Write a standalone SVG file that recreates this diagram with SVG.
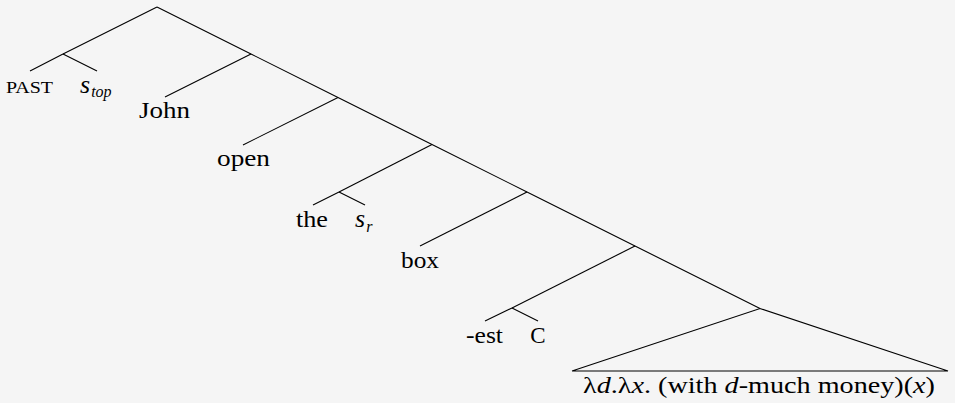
<svg xmlns="http://www.w3.org/2000/svg" width="955" height="403" viewBox="0 0 955 403">
<style>
.t{font-family:"Liberation Serif","Times New Roman",serif;font-size:23px;fill:#000}
.i{font-style:italic}
.s{font-style:italic;font-size:26px}
.sc{font-size:17.5px}
.sub{font-size:16px;font-style:italic}
#edges line,#edges polyline{stroke:#000;stroke-width:1.1;fill:none}
</style>
<rect width="955" height="403" fill="#f5f5f5"/>
<g id="edges">
<line x1="157" y1="7" x2="63" y2="54"/>
<line x1="63" y1="54" x2="30" y2="71"/>
<line x1="63" y1="54" x2="97" y2="71"/>
<polyline points="157,7 251,54 338,97.5 432,144.5 527,192 635,246 760,308.5"/>
<line x1="251" y1="54" x2="165" y2="97"/>
<line x1="338" y1="97.5" x2="243" y2="145"/>
<line x1="432" y1="144.5" x2="339" y2="192"/>
<line x1="339" y1="192" x2="313" y2="205"/>
<line x1="339" y1="192" x2="365" y2="205"/>
<line x1="527" y1="192" x2="420" y2="246"/>
<line x1="635" y1="246" x2="512" y2="308"/>
<line x1="512" y1="308" x2="485" y2="321"/>
<line x1="512" y1="308" x2="538" y2="321"/>
<polyline points="572,371 760,308.5 948,371 572,371"/>
</g>
<g id="n-past"><text class="t sc" x="6" y="93" textLength="47" lengthAdjust="spacingAndGlyphs">PAST</text></g>
<g id="n-stop"><text class="t" x="80" y="93"><tspan class="s">s</tspan><tspan class="sub" dx="1" dy="4">top</tspan></text></g>
<g id="n-john"><text class="t" x="139" y="118" textLength="51" lengthAdjust="spacingAndGlyphs">John</text></g>
<g id="n-open"><text class="t" x="217" y="166" textLength="53" lengthAdjust="spacingAndGlyphs">open</text></g>
<g id="n-the"><text class="t" x="296" y="227" textLength="32" lengthAdjust="spacingAndGlyphs">the</text></g>
<g id="n-sr"><text class="t" x="355" y="227"><tspan class="s">s</tspan><tspan class="sub" dx="1" dy="5">r</tspan></text></g>
<g id="n-box"><text class="t" x="401" y="268" textLength="38" lengthAdjust="spacingAndGlyphs">box</text></g>
<g id="n-est"><text class="t" x="466" y="343" textLength="37" lengthAdjust="spacingAndGlyphs">-est</text></g>
<g id="n-c"><text class="t" x="538" y="343" text-anchor="middle">C</text></g>
<g id="n-lambda"><text class="t" x="583" y="393" textLength="352" lengthAdjust="spacingAndGlyphs">λ<tspan class="i">d</tspan>.λ<tspan class="i">x</tspan>. (with <tspan class="i">d</tspan>-much money)(<tspan class="i">x</tspan>)</text></g>
</svg>
